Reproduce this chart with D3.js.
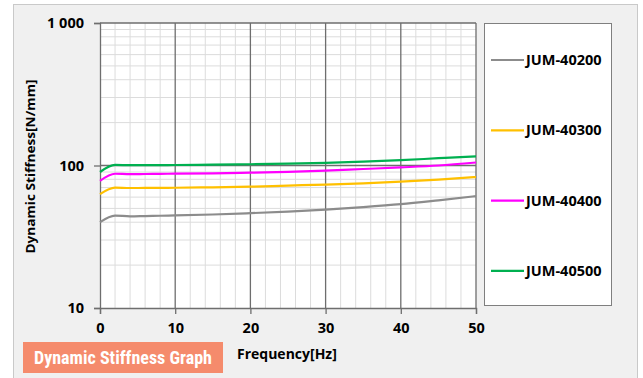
<!DOCTYPE html>
<html>
<head>
<meta charset="utf-8">
<script src="https://cdn.jsdelivr.net/npm/d3@7"></script>
<style>
  body { margin: 0; background: #fff; }
  svg { display: block; font-family: "Open Sans", "DejaVu Sans", sans-serif; }
</style>
</head>
<body>
<svg width="643" height="378"></svg>
<script>
// chart data
const freq = [0, 2, 4, 6, 8, 10, 15, 20, 25, 30, 35, 40, 45, 50];
const jum40200 = [40, 44.5, 44, 44.2, 44.4, 44.6, 45.3, 46.3, 47.5, 49, 51, 53.5, 57, 61];
const jum40300 = [63, 70, 69.5, 69.6, 69.7, 69.8, 70.3, 71, 72.3, 73.5, 75, 77, 79.5, 83];
const jum40400 = [78, 87.5, 87, 87.2, 87.4, 87.6, 88, 89, 90.3, 92, 94.5, 97, 100, 105];
const jum40500 = [90, 101, 100.5, 100.6, 100.7, 100.8, 101.3, 102, 103, 104.5, 106.5, 109, 112.5, 116];
const seriesNames = ["JUM-40200", "JUM-40300", "JUM-40400", "JUM-40500"];
const seriesColors = ["#8c8c8c", "#ffc000", "#ff00ff", "#00b050"];
const xTicks = [0, 10, 20, 30, 40, 50];
const yTicks = [10, 100, 1000];

const series = [jum40200, jum40300, jum40400, jum40500].map((vals, i) => ({
  name: seriesNames[i],
  color: seriesColors[i],
  values: vals.map((v, j) => ({ f: freq[j], v: v }))
}));

let svg = d3.select("svg");

// outer panel
svg.append("rect")
  .attr("x", 13.5).attr("y", 4.5)
  .attr("width", 624).attr("height", 380)
  .attr("fill", "#f0f0f0")
  .attr("stroke", "#c9c9c9");

var x = d3.scaleLinear().domain([0, 50]).range([100, 476]);
var y = d3.scaleLog().domain([10, 1000]).range([308, 23]);

// plot background
svg.append("rect")
  .attr("x", x(0)).attr("y", y(1000))
  .attr("width", x(50) - x(0)).attr("height", y(10) - y(1000))
  .attr("fill", "#fff");

var grid = svg.append("g");

// minor grid, every 2 Hz and log minors
grid.selectAll(".vminor")
  .data(d3.range(2, 50, 2).filter(d => d % 10 !== 0))
  .enter().append("line")
  .attr("x1", d => x(d)).attr("x2", d => x(d))
  .attr("y1", y(1000)).attr("y2", y(10))
  .style("stroke", "#dcdcdc").style("stroke-width", 1);

grid.selectAll(".hminor")
  .data(y.ticks().filter(d => !yTicks.includes(d)))
  .enter().append("line")
  .attr("x1", x(0)).attr("x2", x(50))
  .attr("y1", d => y(d)).attr("y2", d => y(d))
  .style("stroke", "#dcdcdc").style("stroke-width", 1);

// major grid
grid.selectAll(".vmajor")
  .data(xTicks.filter(d => d > 0))
  .enter().append("line")
  .attr("x1", d => x(d)).attr("x2", d => x(d))
  .attr("y1", y(1000)).attr("y2", y(10))
  .style("stroke", "#6e6e6e").style("stroke-width", 1.3);

grid.selectAll(".hmajor")
  .data(yTicks.filter(d => d > 10))
  .enter().append("line")
  .attr("x1", x(0)).attr("x2", x(50))
  .attr("y1", d => y(d)).attr("y2", d => y(d))
  .style("stroke", "#6e6e6e").style("stroke-width", 1.3);

// axes
var fmt = d => d === 1000 ? "1 000" : String(d);

var yAxis = svg.append("g")
  .attr("transform", "translate(" + x(0) + ",0)")
  .call(d3.axisLeft(y).tickValues(yTicks).tickFormat(fmt).tickSize(6).tickPadding(10));

var xAxis = svg.append("g")
  .attr("transform", "translate(0," + y(10) + ")")
  .call(d3.axisBottom(x).tickValues(xTicks).tickSize(6).tickPadding(9));

[yAxis, xAxis].forEach(a => {
  a.select(".domain").style("stroke", "#6e6e6e").style("stroke-width", 1.3);
  a.selectAll(".tick line").style("stroke", "#6e6e6e").style("stroke-width", 1.3);
  a.selectAll("text")
    .style("font-family", "'Open Sans', sans-serif")
    .style("font-size", "14.5px")
    .style("font-weight", "bold")
    .style("fill", "#000");
});

// lines
var line = d3.line()
  .x(d => x(d.f))
  .y(d => y(d.v))
  .curve(d3.curveMonotoneX);

svg.append("g").selectAll("path")
  .data(series)
  .enter().append("path")
  .attr("d", d => line(d.values))
  .attr("fill", "none")
  .style("stroke", d => d.color)
  .style("stroke-width", 2.2);

// axis titles
svg.append("text")
  .attr("transform", "translate(35,166.5) rotate(-90)")
  .attr("text-anchor", "middle")
  .attr("textLength", 174)
  .attr("lengthAdjust", "spacingAndGlyphs")
  .style("font-size", "12.5px")
  .style("font-weight", "bold")
  .text("Dynamic Stiffness[N/mm]");

svg.append("text")
  .attr("x", 237).attr("y", 359)
  .style("font-size", "14px")
  .style("font-weight", "bold")
  .text("Frequency[Hz]");

// legend
var legend = svg.append("g");
legend.append("rect")
  .attr("x", 484.5).attr("y", 23.5)
  .attr("width", 127).attr("height", 282)
  .attr("fill", "#fff")
  .attr("stroke", "#7f7f7f");

var item = legend.selectAll(".item")
  .data(series)
  .enter().append("g")
  .attr("transform", (d, i) => "translate(0," + (60 + i * 70.3) + ")");

item.append("line")
  .attr("x1", 491).attr("x2", 524)
  .style("stroke", d => d.color)
  .style("stroke-width", 2.2);

item.append("text")
  .attr("x", 526).attr("dy", "0.35em")
  .style("font-size", "14.5px")
  .style("font-weight", "bold")
  .text(d => d.name);

// badge
svg.append("rect")
  .attr("x", 23).attr("y", 342)
  .attr("width", 200).attr("height", 31)
  .attr("fill", "#f58b6c");

svg.append("text")
  .attr("x", 123).attr("y", 364)
  .attr("text-anchor", "middle")
  .style("font-family", "'Liberation Sans Narrow', 'Roboto', sans-serif")
  .style("font-stretch", "condensed")
  .style("font-size", "18px")
  .style("font-weight", "bold")
  .style("fill", "#fff")
  .text("Dynamic Stiffness Graph");
</script>
</body>
</html>
